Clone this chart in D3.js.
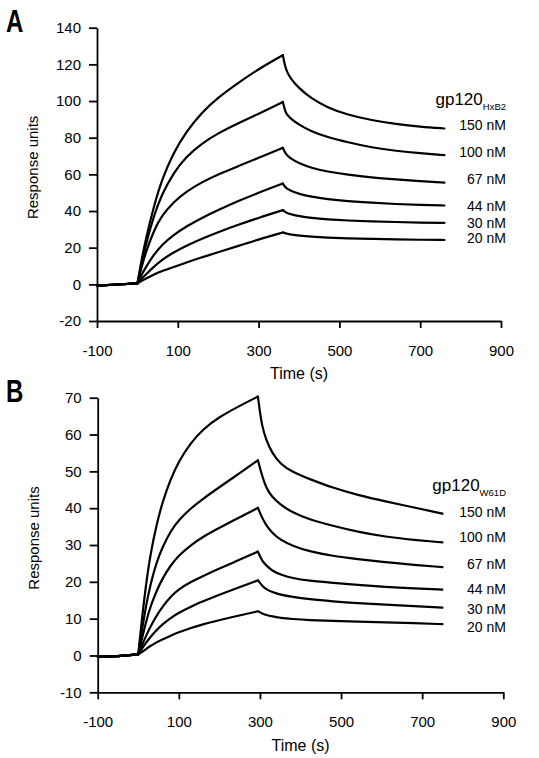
<!DOCTYPE html>
<html>
<head>
<meta charset="utf-8">
<script src="https://cdn.jsdelivr.net/npm/d3@7"></script>
<style>
  html, body { margin: 0; padding: 0; background: #fff; }
  svg { display: block; }
  text { font-family: Arial, "Liberation Sans", Helvetica, sans-serif; fill: #000; }
</style>
</head>
<body>
<svg id="chart" width="539" height="758"></svg>
<script>
// ---------------- DATA ----------------
const concentrationLabels = ["150 nM", "100 nM", "67 nM", "44 nM", "30 nM", "20 nM"];
const xTickValues = [-100, 100, 300, 500, 700, 900];

// Panel A : gp120 HxB2
const yTicksA = [-20, 0, 20, 40, 60, 80, 100, 120, 140];
const timesA = [-100, -50, 0, 10, 20, 40, 60, 90, 120, 160, 200, 250, 300, 360,
                365, 370, 380, 400, 430, 470, 520, 580, 640, 700, 760];
const injectionStartA = 0;
const injectionEndA = 360;
const a150 = [-0.7, -0.1, 0.5, 13, 24, 42, 57, 72, 83, 94, 102, 110, 117.5, 125,
              119.5, 116, 112, 107, 101.5, 96.5, 92.5, 89.5, 87.5, 86, 85];
const a100 = [-0.7, -0.1, 0.5, 11, 21, 37, 49, 61, 69.5, 77, 82.5, 88, 93, 99.5,
              95, 92.5, 90.3, 87, 83.5, 80.3, 77.5, 74.6, 72.8, 71.5, 70.5];
const a67  = [-0.7, -0.1, 0.5, 9, 17, 29, 37.5, 45, 50.5, 55.8, 60, 64.5, 69, 74.5,
              72, 70.5, 68.5, 66, 63.5, 61.5, 59.8, 58.2, 57.2, 56.3, 55.5];
const a44  = [-0.7, -0.1, 0.5, 5, 9, 16, 21.5, 27, 31.5, 36.3, 40.5, 45.5, 50, 55,
              53.3, 52.2, 51, 49.3, 47.8, 46.5, 45.4, 44.5, 43.8, 43.3, 43];
const a30  = [-0.7, -0.1, 0.5, 3, 5.2, 9.5, 13.3, 17.5, 21, 25, 28.5, 32.5, 36.3, 40.5,
              39.6, 38.9, 38.2, 37.2, 36.2, 35.4, 34.8, 34.3, 34, 33.7, 33.5];
const a20  = [-0.7, -0.1, 0.5, 1.8, 3, 5.3, 7.2, 9.5, 11.8, 14.8, 17.5, 21, 24.5, 28.3,
              27.9, 27.6, 27.2, 26.6, 26, 25.5, 25.1, 24.8, 24.5, 24.3, 24.2];
const labelValuesA = [87, 72, 57.5, 43, 33.4, 25.2];

// Panel B : gp120 W61D
const yTicksB = [-10, 0, 10, 20, 30, 40, 50, 60, 70];
const timesB = [-100, -50, 0, 10, 20, 30, 45, 60, 80, 100, 130, 160, 200, 250, 295,
                300, 305, 315, 330, 350, 380, 420, 480, 540, 610, 680, 750];
const injectionStartB = 0;
const injectionEndB = 295;
const b150 = [-0.3, -0.2, 0.3, 11, 20, 27.5, 35.5, 41.8, 48, 52.8, 57.8, 61.5, 64.8, 67.8, 70.3,
              66, 62.5, 58.5, 55, 52, 49.8, 48, 45.5, 43.6, 41.8, 40.2, 38.5];
const b100 = [-0.3, -0.2, 0.3, 7.5, 14, 19.3, 25.3, 29.5, 33.8, 36.8, 40, 42.6, 45.7, 49.5, 53,
              51, 49, 45.5, 43, 41, 38.8, 37, 35.2, 33.6, 32.2, 31.4, 30.7];
const b67  = [-0.3, -0.2, 0.3, 5, 9.5, 13.3, 17.5, 21, 24.5, 27.2, 30, 32.3, 34.7, 37.5, 40.1,
              38.8, 37.5, 35.4, 33.3, 31.4, 29.8, 28.3, 27, 26.2, 25.3, 24.6, 24];
const b44  = [-0.3, -0.2, 0.3, 3, 5.5, 7.8, 10.8, 13.3, 16, 18, 20, 21.6, 23.6, 26, 28.2,
              27, 25.8, 24.5, 23, 22, 21, 20.3, 19.7, 19.2, 18.6, 18.2, 17.9];
const b30  = [-0.3, -0.2, 0.3, 2, 3.6, 5, 6.9, 8.5, 10.2, 11.6, 13.3, 14.7, 16.5, 18.6, 20.4,
              19.7, 19, 18, 17.2, 16.5, 15.9, 15.3, 14.7, 14.2, 13.8, 13.4, 13];
const b20  = [-0.3, -0.2, 0.3, 1, 1.8, 2.6, 3.6, 4.4, 5.4, 6.3, 7.5, 8.5, 9.6, 10.9, 12,
              11.8, 11.4, 11, 10.6, 10.2, 9.9, 9.6, 9.4, 9.2, 9, 8.8, 8.5];
const labelValuesB = [39.1, 32.1, 24.9, 18.1, 12.7, 7.7];

// ---------------- DRAWING ----------------
const svg = d3.select("#chart");
svg.append("rect").attr("width", 539).attr("height", 758).attr("fill", "#fff");
const FONT = 'Arial, "Liberation Sans", Helvetica, sans-serif';

function drawPanel(cfg) {
  const g = svg.append("g");
  const x = d3.scaleLinear().domain([-100, 900]).range([cfg.left, cfg.right]);
  const y = d3.scaleLinear().domain(cfg.yDomain).range([cfg.bottom, cfg.top]);
  const fmt = d => String(d);   // plain hyphen for negatives, as in the figure

  const yAxis = d3.axisLeft(y).tickValues(cfg.yTicks).tickSize(8).tickSizeOuter(0).tickPadding(8)
    .tickFormat(fmt);
  const xAxis = d3.axisBottom(x).tickValues(xTickValues).tickSize(7).tickSizeOuter(0).tickPadding(17)
    .tickFormat(fmt);

  const ya = g.append("g").attr("transform", `translate(${cfg.left},0)`).call(yAxis);
  const xa = g.append("g").attr("transform", `translate(0,${cfg.bottom})`).call(xAxis);
  [ya, xa].forEach(a => {
    a.attr("font-family", FONT);
    a.select(".domain").attr("stroke", "#000").attr("stroke-width", 1.8);
    a.selectAll(".tick line").attr("stroke", "#000").attr("stroke-width", 1.8);
    a.selectAll(".tick text").attr("font-size", 15).attr("fill", "#000").style("font-family", FONT);
  });

  // axis titles
  g.append("text")
    .attr("x", (cfg.left + cfg.right) / 2).attr("y", cfg.bottom + cfg.titleGap)
    .attr("text-anchor", "middle").attr("font-size", 16).text("Time (s)");
  g.append("text")
    .attr("transform", `translate(${cfg.left - 59},${(cfg.top + cfg.bottom) / 2 - 7}) rotate(-90)`)
    .attr("text-anchor", "middle").attr("font-size", 15).text("Response units");

  // panel letter (condensed bold)
  g.append("text")
    .attr("transform", `translate(6,${cfg.letterY}) scale(0.75,1)`)
    .attr("font-size", 32).attr("font-weight", "bold")
    .text(cfg.letter);

  // sensorgram curves: baseline, association and dissociation phases
  const smooth = d3.line().x(d => x(d.t)).y(d => y(d.v)).curve(d3.curveBasis);
  const straight = d3.line().x(d => x(d.t)).y(d => y(d.v));
  cfg.series.forEach(vals => {
    const pts = cfg.times.map((t, i) => ({ t: t, v: vals[i] }));
    const base = pts.filter(p => p.t <= cfg.start);
    const assoc = pts.filter(p => p.t >= cfg.start && p.t <= cfg.end);
    const diss = pts.filter(p => p.t >= cfg.end);
    [[base, straight], [assoc, smooth], [diss, smooth]].forEach(([seg, gen]) => {
      g.append("path").attr("d", gen(seg))
        .attr("fill", "none").attr("stroke", "#000")
        .attr("stroke-width", 2.2).attr("stroke-linejoin", "round").attr("stroke-linecap", "round");
    });
  });

  // labels
  const labelX = 506;
  concentrationLabels.forEach((lab, i) => {
    g.append("text").attr("x", labelX).attr("y", y(cfg.labelValues[i]))
      .attr("dy", "0.36em").attr("text-anchor", "end").attr("font-size", 14).text(lab);
  });
  const gl = g.append("text").attr("x", labelX).attr("y", y(cfg.labelValues[0]) - 20)
    .attr("text-anchor", "end").attr("font-size", 17);
  gl.append("tspan").text("gp120");
  gl.append("tspan").attr("font-size", 9.5).attr("dy", 5).text(cfg.sub);
}

drawPanel({
  letter: "A", sub: "HxB2", letterY: 32, titleGap: 57.5,
  left: 97, right: 501, top: 27.7, bottom: 321,
  yDomain: [-20, 140], yTicks: yTicksA,
  times: timesA, start: injectionStartA, end: injectionEndA,
  series: [a150, a100, a67, a44, a30, a20],
  labelValues: labelValuesA
});

drawPanel({
  letter: "B", sub: "W61D", letterY: 402, titleGap: 59,
  left: 97.7, right: 503.3, top: 397.7, bottom: 692.3,
  yDomain: [-10, 70], yTicks: yTicksB,
  times: timesB, start: injectionStartB, end: injectionEndB,
  series: [b150, b100, b67, b44, b30, b20],
  labelValues: labelValuesB
});
</script>
</body>
</html>
